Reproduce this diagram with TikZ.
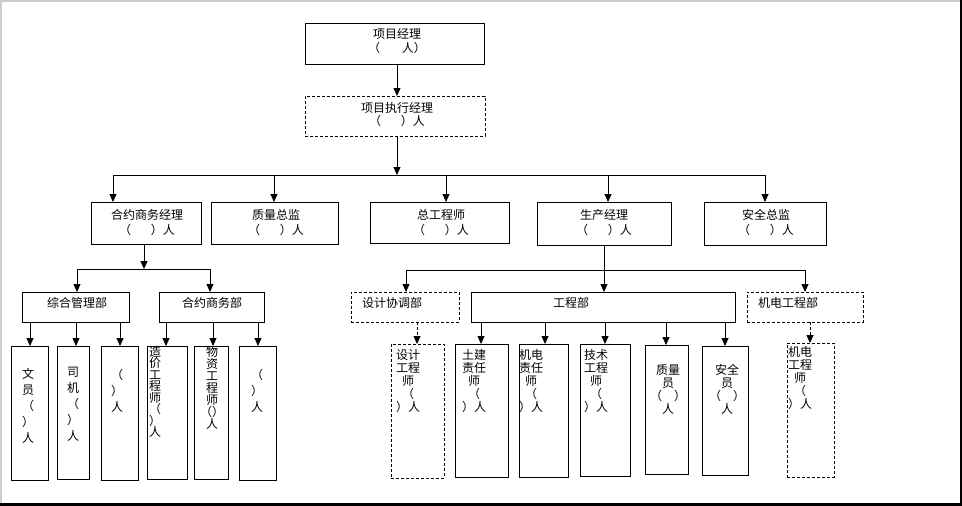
\documentclass[tikz,border=0pt]{standalone}
\usepackage{fontspec}
\newfontfamily\cjk{Noto Sans CJK SC}
\usetikzlibrary{arrows.meta}
% "( ) 人" head-count placeholder used in the upper boxes
\newcommand{\renshu}{（\hspace{20pt}）人}
% box given by its corners: \rbox[style]{name}{x1}{y1}{x2}{y2}
\newcommand{\rbox}[6][box]{%
  \node[#1,minimum width={#5-#3},minimum height={#6-#4}] (#2) at ({(#3+#5)/2},{(#4+#6)/2}) {};}
\begin{document}
\begin{tikzpicture}[x=1pt,y=-1pt,
  box/.style={draw=black,line width=0.8pt,inner sep=0pt,outer sep=0pt},
  dbox/.style={box,dash pattern=on 3pt off 2pt},
  lbl/.style={font=\cjk\fontsize{12}{14}\selectfont,align=center,inner sep=0pt},
  col/.style={lbl,font=\cjk\fontsize{12}{16}\selectfont},
  ncol/.style={lbl,font=\cjk\fontsize{12}{13}\selectfont},
  tcol/.style={lbl,font=\cjk\fontsize{12}{11.5}\selectfont},
  link/.style={line width=0.8pt},
  arr/.style={link,-{Triangle[length=8pt,width=7pt]}},
  darr/.style={arr,dash pattern=on 3pt off 2pt}]

% page and frame
\useasboundingbox (0,0) rectangle (962,506);
\fill[white] (0,0) rectangle (962,506);
\fill[black!20] (0,0) rectangle (960,1.5);
\fill[black!20] (0,0) rectangle (1.5,503);
\fill[black] (960,0) rectangle (962,506);
\fill[black] (0,503) rectangle (962,506);

% ---- boxes ----
\rbox{pm}{305}{23}{484}{64}
\rbox[dbox]{exec}{305}{96}{485}{136}

\rbox{hy}{91}{202}{201}{244}
\rbox{zl}{211}{202}{338}{244}
\rbox{zg}{370}{202}{509}{243}
\rbox{sc}{537}{202}{671}{245}
\rbox{aq}{704}{202}{826}{245}

\rbox{zh}{22}{292}{129}{322}
\rbox{hs}{159}{292}{264}{322}
\rbox[dbox]{sj}{351}{292}{459}{322}
\rbox{gc}{471}{292}{735}{322}
\rbox[dbox]{jd}{747}{292}{863}{322}

\rbox{wy}{11}{346}{48}{480}
\rbox{sjj}{57}{346}{89}{479}
\rbox{ka}{101}{346}{138}{480}
\rbox{zj}{147}{346}{187}{479}
\rbox{wz}{194}{346}{228}{479}
\rbox{kb}{239}{346}{276}{480}

\rbox[dbox]{sg}{391}{344}{444}{478}
\rbox{tj}{455}{344}{508}{477}
\rbox{jz}{519}{344}{568}{477}
\rbox{js}{580}{344}{630}{476}
\rbox{zy}{645}{345}{688}{474}
\rbox{ay}{702}{346}{748}{475}
\rbox[dbox]{jg}{787}{343}{834}{477}

% ---- texts ----
\node[lbl] (t-pm) at (397,41) {项目经理\\（\hspace{22pt}人）};
\node[lbl,font=\cjk\fontsize{12}{13}\selectfont] (t-exec) at (397,114.5) {项目执行经理\\\renshu};

\node[lbl,font=\cjk\fontsize{12}{15}\selectfont] (t-hy) at (147,222.5) {合约商务经理\\\renshu};
\node[lbl,font=\cjk\fontsize{12}{15}\selectfont] (t-zl) at (276,222.5) {质量总监\\\renshu};
\node[lbl,font=\cjk\fontsize{12}{15}\selectfont] (t-zg) at (441,222.5) {总工程师\\\renshu};
\node[lbl,font=\cjk\fontsize{12}{15}\selectfont] (t-sc) at (604,222.5) {生产经理\\\renshu};
\node[lbl,font=\cjk\fontsize{12}{15}\selectfont] (t-aq) at (766,222.5) {安全总监\\\renshu};

\node[lbl] (t-zh) at (77,303) {综合管理部};
\node[lbl] (t-hs) at (212,303) {合约商务部};
\node[lbl] (t-sj) at (392,303) {设计协调部};
\node[lbl] (t-gc) at (571,303) {工程部};
\node[lbl] (t-jd) at (788,303) {机电工程部};

\node[col] (t-wy) at (28,406) {文\\员\\（\\）\\人};
\node[col] (t-sjj) at (73,404) {司\\机\\（\\）\\人};
\node[col] (t-ka) at (117,391) {（\\）\\人};
\node[tcol] (t-zj) at (155,392) {造\\价\\工\\程\\师\\（\\）\\人};
\node[tcol,font=\cjk\fontsize{12}{12}\selectfont] (t-wz) at (212,388) {物\\资\\工\\程\\师\\（）\\人};
\node[col] (t-kb) at (257,391) {（\\）\\人};

\node[ncol] (t-sg) at (408,381) {设计\\工程\\师\\（\\）人};
\node[ncol] (t-tj) at (474,381) {土建\\责任\\师\\（\\）人};
\node[ncol] (t-jz) at (531,381) {机电\\责任\\师\\（\\）人};
\node[ncol] (t-js) at (596,381) {技术\\工程\\师\\（\\）人};
\node[ncol] (t-zy) at (668,389) {质量\\员\\（　）\\人};
\node[ncol] (t-ay) at (727,389) {安全\\员\\（　）\\人};
\node[ncol] (t-jg) at (800,378.5) {机电\\工程\\师\\（\\）人};

% ---- connectors ----
\coordinate (j1) at (397,175);
\draw[arr] (j1 |- pm.south) -- (j1 |- exec.north);
\draw[arr] (j1 |- exec.south) -- (j1);
\coordinate (bus1l) at (113,175);
\coordinate (bus1r) at (765,175);
\draw[link] (bus1l) -- (bus1r);
\foreach \n/\x in {hy/113,zl/274,zg/446,sc/608,aq/765}{
  \coordinate (b-\n) at (\x,175);
  \draw[arr] (b-\n) -- (b-\n |- \n.north);
}

% contract and commercial branch
\coordinate (j2) at (144,269);
\draw[arr] (j2 |- hy.south) -- (j2);
\coordinate (bus2l) at (77,269);
\coordinate (bus2r) at (210,269);
\draw[link] (bus2l) -- (bus2r);
\draw[arr] (bus2l) -- (bus2l |- zh.north);
\draw[arr] (bus2r) -- (bus2r |- hs.north);
\foreach \n/\x in {wy/30,sjj/76,ka/120}{
  \coordinate (c-\n) at (\x,322);
  \draw[arr] (c-\n) -- (c-\n |- \n.north);
}
\foreach \n/\x in {zj/166,wz/213,kb/258}{
  \coordinate (c-\n) at (\x,322);
  \draw[arr] (c-\n) -- (c-\n |- \n.north);
}

% production branch
\coordinate (j3) at (604,270);
\draw[arr] (j3 |- sc.south) -- (j3 |- gc.north);
\coordinate (bus3l) at (406,270);
\coordinate (bus3r) at (805,270);
\draw[link] (bus3l) -- (bus3r);
\draw[arr] (bus3l) -- (bus3l |- sj.north);
\draw[arr] (bus3r) -- (bus3r |- jd.north);
\foreach \n/\x in {tj/481,jz/545,js/605,zy/666,ay/725}{
  \coordinate (c-\n) at (\x,322);
  \draw[arr] (c-\n) -- (c-\n |- \n.north);
}
\coordinate (c-sg) at (417,322);
\draw[darr] (c-sg) -- (c-sg |- sg.north);
\coordinate (c-jg) at (810,322);
\draw[darr] (c-jg) -- (c-jg |- jg.north);
\end{tikzpicture}
\end{document}
